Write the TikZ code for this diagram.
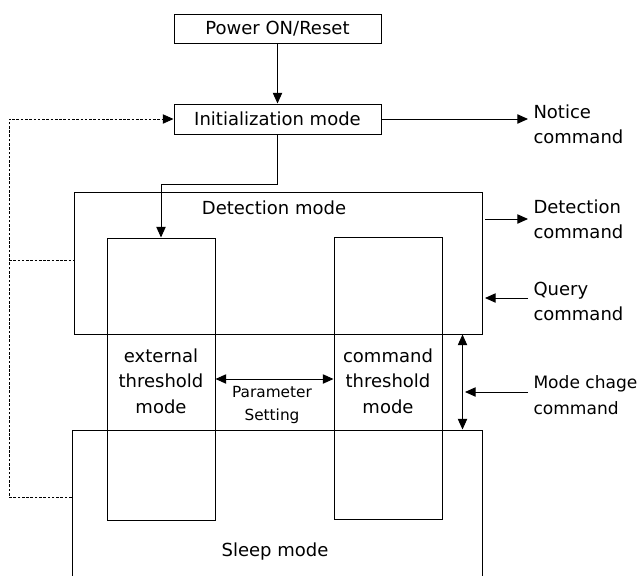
\documentclass[tikz,border=0pt]{standalone}
\usepackage{fontspec}
\setmainfont{DejaVu Sans}
\usetikzlibrary{arrows.meta,calc}
\begin{document}
\begin{tikzpicture}[x=0.75pt,y=-0.75pt, line width=0.75pt,
  font=\fontsize{13.5}{19}\selectfont,
  box/.style={draw, inner sep=0pt},
  arr/.style={-{Triangle[length=8pt,width=7pt]}},
  darr/.style={{Triangle[length=8pt,width=7pt]}-{Triangle[length=8pt,width=7pt]}},
  lbl/.style={align=left, anchor=west, inner sep=0pt},
  txt/.style={align=center, inner sep=0pt},
  dash line/.style={dash pattern=on 2pt off 1.2pt, line width=0.6pt}]
\useasboundingbox (0,0) rectangle (639,575);
% boxes
\node[box, minimum width=155.25pt, minimum height=21.75pt] (power) at (277.5,28.5) {Power ON/Reset};
\node[box, minimum width=155.25pt, minimum height=22.5pt] (init) at (277.5,119) {Initialization mode};
\node[box, minimum width=306pt, minimum height=106.5pt] (det) at (278,263) {};
\node[box, minimum width=307.5pt, minimum height=127.5pt] (sleep) at (277,515) {};
\node[box, minimum width=81pt, minimum height=211.5pt] (ext) at (161,379) {};
\node[box, minimum width=81pt, minimum height=211.5pt] (cmd) at (388,378.5) {};
% texts
\node[txt] (detl) at (274,208) {Detection mode};
\node[txt] (extl) at (161,381) {external\\threshold\\mode};
\node[txt] (cmdl) at (388,381) {command\\threshold\\mode};
\node[txt, font=\fontsize{11.5}{17}\selectfont] (parl) at (272,405) {Parameter\\Setting};
\node[txt] (sleepl) at (275,552) {Sleep mode};
\node[lbl] (notice) at (533,124) {Notice\\command};
\node[lbl] (detc) at (533,219.5) {Detection\\command};
\node[lbl] (query) at (533,301.5) {Query\\command};
\node[lbl, font=\fontsize{12.8}{19}\selectfont] (modec) at (533,395) {Mode chage\\command};
% helper coordinates
\coordinate (bend) at (0,184);
\coordinate (ne) at (528,119);
\coordinate (dcs) at (485,219);
\coordinate (dce) at (528,219);
\coordinate (qs) at (528,298);
\coordinate (qe) at (485,298);
\coordinate (ms) at (528,392);
\coordinate (me) at (465,392);
\coordinate (vx) at (462.5,0);
\coordinate (dl) at (9,0);
\coordinate (sy) at (0,497);
\coordinate (dy) at (0,260);
% connectors
\draw[arr] (power) -- (init);
\draw[arr] (init.south) -- (init.south |- bend) -| (ext.north);
\draw[arr] (init.east) -- (ne);
\draw[arr] (dcs) -- (dce);
\draw[arr] (qs) -- (qe);
\draw[arr] (ms) -- (me);
\draw[darr] (det.south -| vx) -- (sleep.north -| vx);
\draw[darr] (ext.east) -- (ext.east -| cmd.west);
\draw[dash line, arr] (sleep.west |- sy) -- (dl |- sy) -- (dl |- init.west) -- (init.west);
\draw[dash line] (dl |- dy) -- (det.west |- dy);
\end{tikzpicture}
\end{document}
